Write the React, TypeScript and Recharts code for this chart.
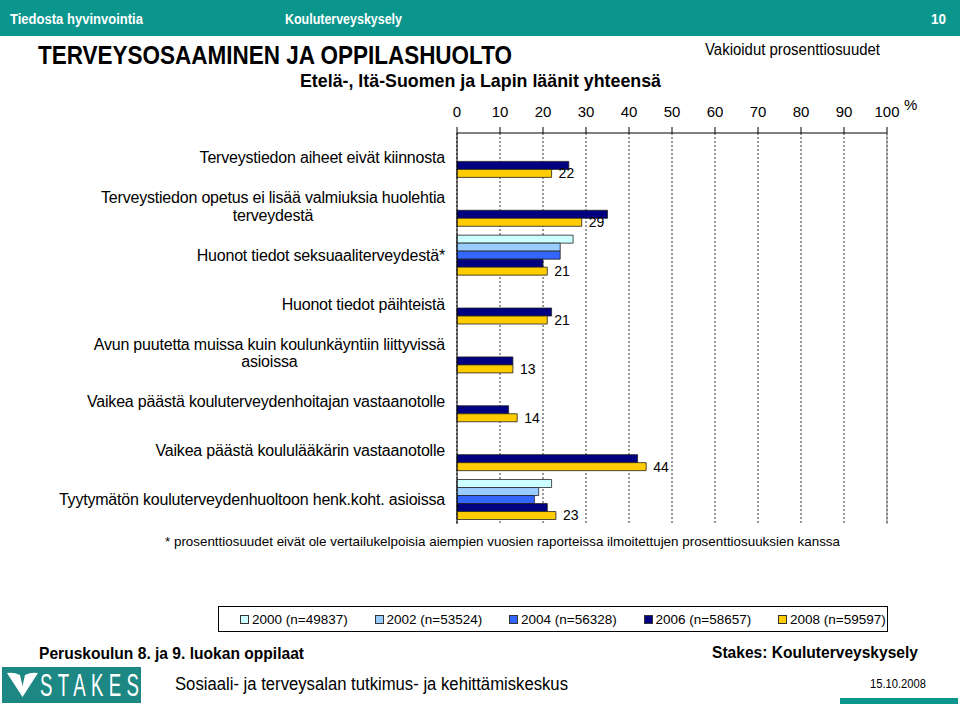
import React from 'react';
import { BarChart, Bar, XAxis, YAxis, CartesianGrid, ReferenceLine, LabelList } from 'recharts';

const categories = [
  'Terveystiedon aiheet eivät kiinnosta',
  'Terveystiedon opetus ei lisää valmiuksia huolehtia\nterveydestä',
  'Huonot tiedot seksuaaliterveydestä*',
  'Huonot tiedot päihteistä',
  'Avun puutetta muissa kuin koulunkäyntiin liittyvissä\nasioissa',
  'Vaikea päästä kouluterveydenhoitajan vastaanotolle',
  'Vaikea päästä koululääkärin vastaanotolle',
  'Tyytymätön kouluterveydenhuoltoon henk.koht. asioissa',
];

const v2000 = [null, null, 27, null, null, null, null, 22];
const v2002 = [null, null, 24, null, null, null, null, 19];
const v2004 = [null, null, 24, null, null, null, null, 18];
const v2006 = [26, 35, 20, 22, 13, 12, 42, 21];
const v2008 = [22, 29, 21, 21, 13, 14, 44, 23];

const xTicks = [0, 10, 20, 30, 40, 50, 60, 70, 80, 90, 100];

const series = [
  { key: 'y2000', name: '2000 (n=49837)', color: '#CCFFFF', values: v2000 },
  { key: 'y2002', name: '2002 (n=53524)', color: '#99CCFF', values: v2002 },
  { key: 'y2004', name: '2004 (n=56328)', color: '#3366FF', values: v2004 },
  { key: 'y2006', name: '2006 (n=58657)', color: '#000080', values: v2006 },
  { key: 'y2008', name: '2008 (n=59597)', color: '#FFCC00', values: v2008 },
];

const rows = categories.map((name, i) => {
  const row: Record<string, any> = { name };
  series.forEach(s => { row[s.key] = s.values[i]; });
  return row;
});

const FONT = '"Liberation Sans", Arial, Helvetica, sans-serif';
const TEAL = '#0a968d';

// measure text so the second line of a label can be centred under the first
const measureCtx = typeof document !== 'undefined' ? document.createElement('canvas').getContext('2d') : null;
const textWidth = (s: string, size: number, spacing: number) => {
  if (!measureCtx) return s.length * size * 0.5;
  measureCtx.font = `${size}px ${FONT}`;
  (measureCtx as any).letterSpacing = `${spacing}px`;
  return measureCtx.measureText(s).width;
};

const CategoryTick = (props: any) => {
  const { x, y, payload } = props;
  const lines: string[] = String(payload.value).split('\n');
  const size = 16;
  const spacing = -0.2;
  const lh = 17.5;
  const top = y - ((lines.length - 1) * lh) / 2;
  const w0 = textWidth(lines[0], size, spacing);
  return (
    <g>
      {lines.map((ln, i) => (
        <text
          key={i}
          x={i === 0 ? x : x - w0 / 2}
          y={top + i * lh}
          textAnchor={i === 0 ? 'end' : 'middle'}
          dominantBaseline="central"
          fontSize={size}
          letterSpacing={spacing}
          fill="#000"
          fontFamily={FONT}
        >
          {ln}
        </text>
      ))}
    </g>
  );
};

type TProps = {
  x: number; y: number; w?: number; size: number; bold?: boolean;
  anchor?: 'start' | 'middle' | 'end'; fill?: string; children: React.ReactNode;
};
const T = ({ x, y, w, size, bold, anchor = 'start', fill = '#000', children }: TProps) => (
  <text
    x={x}
    y={y}
    fontSize={size}
    fontWeight={bold ? 'bold' : 'normal'}
    textAnchor={anchor}
    dominantBaseline="central"
    fill={fill}
    fontFamily={FONT}
    {...(w ? { textLength: w, lengthAdjust: 'spacingAndGlyphs' } : {})}
  >
    {children}
  </text>
);

const Legend = () => (
  <div
    style={{
      position: 'absolute', left: 218, top: 606, width: 670, height: 26,
      border: '1px solid #000', boxSizing: 'border-box', background: '#fff',
      fontFamily: FONT, fontSize: 13.5,
    }}
  >
    {series.map((s, i) => (
      <div
        key={s.key}
        style={{ position: 'absolute', left: 21 + i * 134.5, top: 0, height: 24, display: 'flex', alignItems: 'center' }}
      >
        <span style={{ width: 9, height: 9, background: s.color, border: '1px solid #333', boxSizing: 'border-box', marginRight: 3 }} />
        <span>{s.name}</span>
      </div>
    ))}
  </div>
);

const App: React.FC = () => (
  <div style={{ position: 'relative', width: 960, height: 707, background: '#fff', overflow: 'hidden', fontFamily: FONT }}>
    <style>{'body{margin:0}'}</style>

    <svg width={960} height={707} style={{ position: 'absolute', left: 0, top: 0 }}>
      <rect x={0} y={0} width={960} height={36} fill={TEAL} />
      <T x={10} y={19} w={133} size={14.5} bold fill="#fff">Tiedosta hyvinvointia</T>
      <T x={285} y={19} w={117} size={14.5} bold fill="#fff">Kouluterveyskysely</T>
      <T x={946} y={19} w={15} size={14.5} bold anchor="end" fill="#fff">10</T>

      <T x={38} y={55} w={474} size={25} bold>TERVEYSOSAAMINEN JA OPPILASHUOLTO</T>
      <T x={300} y={80} w={361} size={18.5} bold>Etelä-, Itä-Suomen ja Lapin läänit yhteensä</T>
      <T x={705} y={49} w={175} size={16}>Vakioidut prosenttiosuudet</T>
      <T x={904} y={104} size={15}>%</T>

      <T x={165} y={541} w={675} size={13.5}>
        * prosenttiosuudet eivät ole vertailukelpoisia aiempien vuosien raporteissa ilmoitettujen prosenttiosuuksien kanssa
      </T>

      <T x={39} y={653} w={265} size={17} bold>Peruskoulun 8. ja 9. luokan oppilaat</T>
      <T x={712} y={652} w={206} size={17} bold>Stakes: Kouluterveyskysely</T>
      <T x={175} y={684} w={393} size={17.5}>Sosiaali- ja terveysalan tutkimus- ja kehittämiskeskus</T>
      <T x={870} y={684} w={56} size={12.5}>15.10.2008</T>

      <rect x={2} y={667} width={139} height={36} fill="#1d8783" />
      <path d="M7 673 Q14 672 20 675 L22.5 686 L25 675 Q31 672 38 673 L22.5 697 Z" fill="#fff" />
      <text
        transform="translate(40,685) scale(0.6,1)"
        fontSize={31}
        letterSpacing={9}
        fill="#fff"
        dominantBaseline="central"
        fontFamily={FONT}
      >
        STAKES
      </text>
      <rect x={840} y={698} width={118} height={6} fill={TEAL} />
    </svg>

    <div style={{ position: 'absolute', left: 0, top: 0 }}>
      <BarChart
        width={960}
        height={707}
        data={rows}
        layout="vertical"
        margin={{ top: 103, right: 73, bottom: 183, left: 0 }}
        barCategoryGap="9%"
        barGap={0}
      >
        <CartesianGrid horizontal={false} stroke="#333" strokeDasharray="2 2" />
        <XAxis
          type="number"
          domain={[0, 100]}
          ticks={xTicks}
          orientation="top"
          height={30}
          tickSize={6}
          tickMargin={10}
          interval={0}
          axisLine={{ stroke: '#000' }}
          tickLine={{ stroke: '#000' }}
          tick={{ fill: '#000', fontSize: 15, fontFamily: FONT }}
        />
        <XAxis
          xAxisId="bottom"
          type="number"
          domain={[0, 100]}
          orientation="bottom"
          height={0}
          tick={false}
          tickLine={false}
          axisLine={{ stroke: '#808080' }}
        />
        <YAxis
          type="category"
          dataKey="name"
          width={457}
          interval={0}
          tickSize={0}
          tickMargin={12}
          tickLine={false}
          axisLine={{ stroke: '#000' }}
          tick={<CategoryTick />}
        />
        <ReferenceLine x={100} stroke="#808080" />
        {series.map(s => (
          <Bar
            key={s.key}
            dataKey={s.key}
            name={s.name}
            fill={s.color}
            stroke="#222"
            strokeWidth={0.8}
            isAnimationActive={false}
          >
            {s.key === 'y2008' && (
              <LabelList dataKey={s.key} position="right" offset={7} fill="#000" fontSize={14} fontFamily={FONT} />
            )}
          </Bar>
        ))}
      </BarChart>
    </div>

    <Legend />
  </div>
);

export default App;
